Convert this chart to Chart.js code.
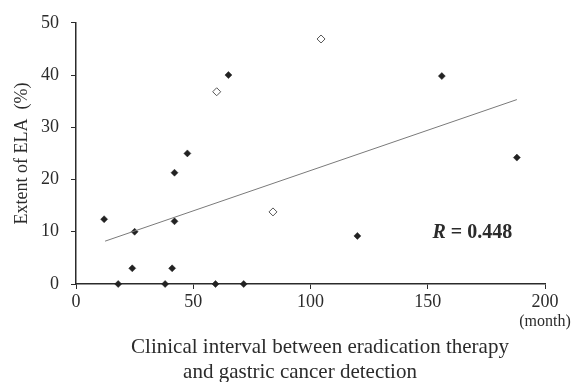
<!DOCTYPE html>
<html>
<head>
<meta charset="utf-8">
<script src="https://cdn.jsdelivr.net/npm/chart.js@4/dist/chart.umd.min.js"></script>
<style>
  html, body { margin: 0; padding: 0; background: #fff; }
  #wrap { width: 588px; height: 382px; }
</style>
</head>
<body>
<div id="wrap"><canvas id="grafico" width="588" height="382"></canvas></div>
<script>
// Pontos (intervalo em meses, extensão de ELA em %)
const filledX = [12, 18, 24, 25, 38, 41, 42, 42, 47.5, 59.5, 65, 71.5, 120, 156, 188];
const filledY = [12.4, 0, 3, 10, 0, 3, 21.3, 12, 25, 0, 40, 0, 9.2, 39.8, 24.2];
const openX = [60, 84, 104.5];
const openY = [36.8, 13.8, 46.9];
// Reta de regressão (extremos)
const trendX = [12.4, 188];
const trendY = [8.2, 35.3];
const xTicks = [0, 50, 100, 150, 200];
const yTicks = [0, 10, 20, 30, 40, 50];
const xTitle = ["Clinical interval between eradication therapy", "and gastric cancer detection"];
const yTitle = "Extent of ELA  (%)";
const unitLabel = "(month)";
const rLabel = "0.448";

const FONT = "'Liberation Serif', 'DejaVu Serif', serif";
const INK = "#2b2b2b";

function pontos(xs, ys) {
    return xs.map((x, i) => ({ x: x, y: ys[i] }));
}

// Textos extras: título do eixo x, unidade e valor de R
const textos = {
    id: "textos",
    afterDraw(chart) {
        const ctx = chart.ctx;
        const sx = chart.scales.x;
        const sy = chart.scales.y;
        ctx.save();
        ctx.fillStyle = INK;
        ctx.textBaseline = "middle";
        ctx.textAlign = "center";
        ctx.font = "21px " + FONT;
        ctx.fillText(xTitle[0], 320, 347);
        ctx.fillText(xTitle[1], 300, 372);
        ctx.font = "16px " + FONT;
        ctx.fillText(unitLabel, sx.getPixelForValue(200), 322);
        // R = 0.448
        ctx.textAlign = "left";
        const px = sx.getPixelForValue(152);
        const py = sy.getPixelForValue(9.7);
        ctx.font = "italic bold 20px " + FONT;
        ctx.fillText("R", px, py);
        const w = ctx.measureText("R ").width;
        ctx.font = "bold 20px " + FONT;
        ctx.fillText("= " + rLabel, px + w, py);
        ctx.restore();
    }
};

new Chart(document.getElementById("grafico"), {
    type: "scatter",
    data: {
        datasets: [
            {
                label: "trend",
                type: "line",
                data: pontos(trendX, trendY),
                borderColor: "#7a7a7a",
                borderWidth: 1,
                pointRadius: 0,
                fill: false
            },
            {
                label: "filled",
                data: pontos(filledX, filledY),
                pointStyle: "rectRot",
                pointRadius: 3.5,
                backgroundColor: "#222",
                borderColor: "#222",
                borderWidth: 0.5,
                clip: false
            },
            {
                label: "open",
                data: pontos(openX, openY),
                pointStyle: "rectRot",
                pointRadius: 4,
                backgroundColor: "#fff",
                borderColor: "#555",
                borderWidth: 1,
                clip: false
            }
        ]
    },
    options: {
        responsive: false,
        animation: false,
        layout: { padding: { top: 22, right: 43, left: 0, bottom: 0 } },
        plugins: {
            legend: { display: false },
            tooltip: { enabled: false }
        },
        scales: {
            x: {
                type: "linear",
                min: 0,
                max: 200,
                afterBuildTicks: (s) => { s.ticks = xTicks.map(v => ({ value: v })); },
                afterFit: (s) => { s.height = 98; },
                border: { display: true, color: INK, width: 1.5 },
                grid: { display: true, drawOnChartArea: false, drawTicks: true, tickLength: 5, color: INK },
                ticks: { color: INK, padding: 2, font: { family: FONT, size: 18 } }
            },
            y: {
                type: "linear",
                min: 0,
                max: 50,
                afterBuildTicks: (s) => { s.ticks = yTicks.map(v => ({ value: v })); },
                afterFit: (s) => { s.width = 76; },
                border: { display: true, color: INK, width: 1.5 },
                grid: { display: true, drawOnChartArea: false, drawTicks: true, tickLength: 5, color: INK },
                ticks: { color: INK, padding: 12, font: { family: FONT, size: 18 } },
                title: {
                    display: true,
                    text: yTitle,
                    color: INK,
                    padding: { top: 11, bottom: 0 },
                    font: { family: FONT, size: 18 }
                }
            }
        }
    },
    plugins: [textos]
});
</script>
</body>
</html>
